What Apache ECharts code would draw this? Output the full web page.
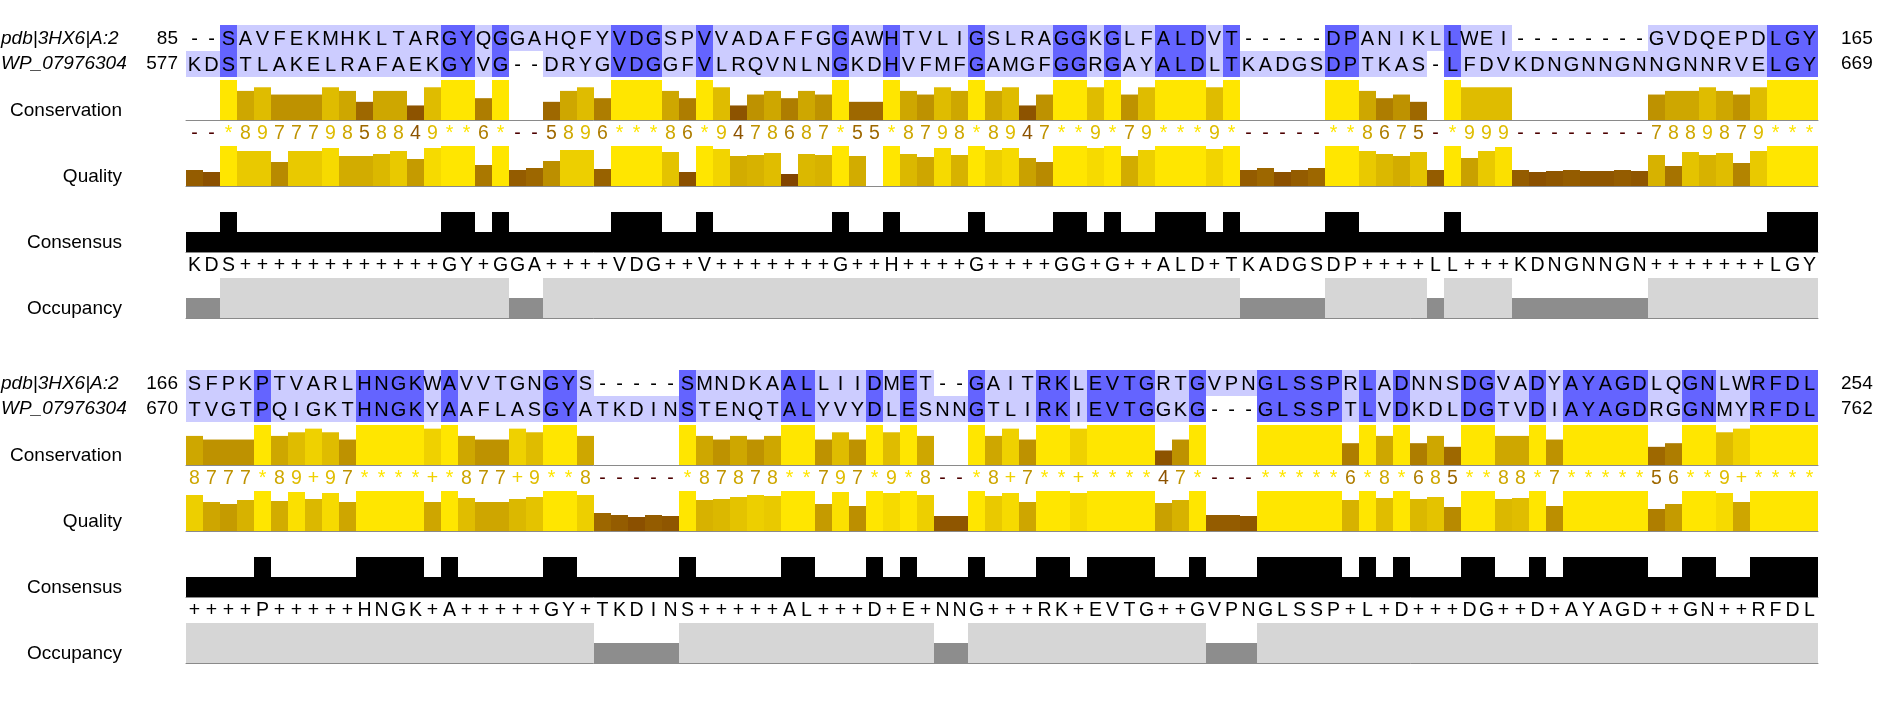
<!DOCTYPE html>
<html><head><meta charset="utf-8">
<script src="https://cdn.jsdelivr.net/npm/echarts@6/dist/echarts.min.js"></script>
<style>html,body{margin:0;padding:0;background:#fff}#c{width:1879px;height:706px}</style>
</head><body><div id="c"></div>
<script>
// ---------- data ----------
const seqNames = ['pdb|3HX6|A:29-254', 'WP_079763049.1'];
const annotationNames = ['Conservation', 'Quality', 'Consensus', 'Occupancy'];

const pdbSeq1 = '--SAVFEKMHKLTARGYQGGAHQFYVDGSPVVADAFFGGAWHTVLIGSLRAGGKGLFALDVT-----DPANIKLLWEI--------GVDQEPDLGY'.split('');
const wpSeq1  = 'KDSTLAKELRAFAEKGYVG--DRYGVDGGFVLRQVNLNGKDHVFMFGAMGFGGRGAYALDLTKADGSDPTKAS-LFDVKDNGNNGNNGNNRVELGY'.split('');
const pdbSeq2 = 'SFPKPTVARLHNGKWAVVTGNGYS-----SMNDKAALLIIDMET--GAITRKLEVTGRTGVPNGLSSPRLADNNSDGVADYAYAGDLQGNLWRFDL'.split('');
const wpSeq2  = 'TVGTPQIGKTHNGKYAAFLASGYATKDINSTENQTALYVYDLESNNGTLIRKIEVTGGKG---GLSSPTLVDKDLDGTVDIAYAGDRGGNMYRFDL'.split('');

const startNums1 = [85, 577], endNums1 = [165, 669];
const startNums2 = [166, 670], endNums2 = [254, 762];

// conservation (0..11; 11 = '*', 10 = '+', 0 = '-')
const cons1 = [0,0,11,8,9,7,7,7,9,8, 5,8,8,4,9,11,11,6,11,0, 0,5,8,9,6,11,11,11,8,6,
  11,9,4,7,8,6,8,7,11,5, 5,11,8,7,9,8,11,8,9,4, 7,11,11,9,11,7,9,11,11,11,
  9,11,0,0,0,0,0,11,11,8, 6,7,5,0,11,9,9,9,0,0, 0,0,0,0,0,0,7,8,8,9, 8,7,9,11,11,11];
const cons2 = [8,7,7,7,11,8,9,10,9,7, 11,11,11,11,10,11,8,7,7,10, 9,11,11,8,0,0,0,0,0,11,
  8,7,8,7,8,11,11,7,9,7, 11,9,11,8,0,0,11,8,10,7, 11,11,10,11,11,11,11,4,7,11,
  0,0,0,11,11,11,11,11,6,11, 8,11,6,8,5,11,11,8,8,11, 7,11,11,11,11,11,5,6,11,11, 9,10,11,11,11,11];

// quality (percent of full bar)
const qual1 = [40,35,100,87.5,87.5,60,87.5,87.5,95,75, 75,80,87.5,67.5,95,100,100,52.5,100,40,
  45,62.5,90,90,42.5,100,100,100,85,35, 100,92.5,75,77.5,82.5,30,80,77.5,100,75,
  0,100,80,72.5,95,77.5,100,90,95,70, 60,100,100,95,100,75,90,100,100,100,
  92.5,100,40,45,35,40,45,100,100,87.5, 80,75,85,40,100,70,87.5,97.5,40,35,
  37.5,40,37.5,37.5,40,37.5,77.5,50,85,77.5, 82.5,57.5,87.5,100,100,100];
const qual2 = [90,72.5,67.5,77.5,100,75,97.5,80,95,72.5, 100,100,100,100,72.5,100,82.5,72.5,72.5,80,
  85,100,100,90,45,40,35,40,37.5,100, 77.5,80,85,90,87.5,100,100,67.5,97.5,62.5,
  100,95,100,90,37.5,37.5,100,87.5,95,72.5, 100,100,95,100,100,100,100,70,77.5,100,
  40,40,37.5,100,100,100,100,100,77.5,100, 82.5,100,80,85,60,100,100,80,82.5,100,
  62.5,100,100,100,100,100,55,67.5,100,100, 95,72.5,100,100,100,100];

// consensus labels and percentages
const consensusLab1 = 'KDS++++++++++++GY+GGA++++VDG++V+++++++G++H++++G++++GG+G++ALD+TKADGSDP++++LL+++KDNGNNGN+++++++LGY'.split('');
const consensusLab2 = '++++P+++++HNGK+A+++++GY+TKDINS+++++AL+++D+E+NNG+++RK+EVTG++GVPNGLSSP+L+D+++DG++D+AYAGD++GN++RFDL'.split('');
const consensusPct1 = [50,50,100,50,50,50,50,50,50,50, 50,50,50,50,50,100,100,50,100,50,
  50,50,50,50,50,100,100,100,50,50, 100,50,50,50,50,50,50,50,100,50,
  50,100,50,50,50,50,100,50,50,50, 50,100,100,50,100,50,50,100,100,100,
  50,100,50,50,50,50,50,100,100,50, 50,50,50,50,100,50,50,50,50,50,
  50,50,50,50,50,50,50,50,50,50, 50,50,50,100,100,100];
const consensusPct2 = [50,50,50,50,100,50,50,50,50,50, 100,100,100,100,50,100,50,50,50,50,
  50,100,100,50,50,50,50,50,50,100, 50,50,50,50,50,100,100,50,50,50,
  100,50,100,50,50,50,100,50,50,50, 100,100,50,100,100,100,100,50,50,100,
  50,50,50,100,100,100,100,100,50,100, 50,100,50,50,50,100,100,50,50,100,
  50,100,100,100,100,100,50,50,100,100, 50,50,100,100,100,100];

// occupancy (number of sequences with a residue)
const occ1 = [1,1,2,2,2,2,2,2,2,2, 2,2,2,2,2,2,2,2,2,1, 1,2,2,2,2,2,2,2,2,2,
  2,2,2,2,2,2,2,2,2,2, 2,2,2,2,2,2,2,2,2,2, 2,2,2,2,2,2,2,2,2,2,
  2,2,1,1,1,1,1,2,2,2, 2,2,2,1,2,2,2,2,1,1, 1,1,1,1,1,1,2,2,2,2, 2,2,2,2,2,2];
const occ2 = [2,2,2,2,2,2,2,2,2,2, 2,2,2,2,2,2,2,2,2,2, 2,2,2,2,1,1,1,1,1,2,
  2,2,2,2,2,2,2,2,2,2, 2,2,2,2,1,1,2,2,2,2, 2,2,2,2,2,2,2,2,2,2,
  1,1,1,2,2,2,2,2,2,2, 2,2,2,2,2,2,2,2,2,2, 2,2,2,2,2,2,2,2,2,2, 2,2,2,2,2,2];

// ---------- styling ----------
const NCOL = 96;
const colCats = Array.from({length: NCOL}, (_, i) => String(i));
const FONT = '"Liberation Sans", Arial, sans-serif';
const DARK_ID = '#6464ff', LIGHT_ID = '#ccccff';
const OCC_FULL = '#d6d6d6', OCC_HALF = '#8d8d8d';

function gradColor(p) {
  const r = Math.round(255 * (0.3 + 0.7 * p));
  const g = Math.round(255 * 0.9 * p);
  return 'rgb(' + r + ',' + g + ',0)';
}
function consSymbol(v) { return v === 11 ? '*' : v === 10 ? '+' : v === 0 ? '-' : String(v); }

const blocks = [
  {off: 0,   seqs: [pdbSeq1, wpSeq1], cons: cons1, qual: qual1, clab: consensusLab1, cpct: consensusPct1, occ: occ1, start: startNums1, end: endNums1},
  {off: 345, seqs: [pdbSeq2, wpSeq2], cons: cons2, qual: qual2, clab: consensusLab2, cpct: consensusPct2, occ: occ2, start: startNums2, end: endNums2}
];

const grid = [], xAxis = [], yAxis = [], series = [], graphic = [];
const LEFT = 186, WIDTH = 1632;

function addGrid(top, height, yCfg, baseline) {
  const idx = grid.length;
  grid.push({left: LEFT, width: WIDTH, top: top, height: height});
  xAxis.push({type: 'category', gridIndex: idx, data: colCats, boundaryGap: true,
    axisLine: {show: !!baseline, lineStyle: {color: '#8a8a8a', width: 1}},
    axisTick: {show: false}, axisLabel: {show: false}, splitLine: {show: false}});
  yAxis.push(Object.assign({gridIndex: idx, axisLine: {show: false}, axisTick: {show: false},
    axisLabel: {show: false}, splitLine: {show: false}}, yCfg));
  return idx;
}

function textRow(idx, chars, colors, fontSize) {
  series.push({
    type: 'custom', xAxisIndex: idx, yAxisIndex: idx, silent: true,
    data: chars.map((c, i) => [i, 0.5]),
    renderItem: function (params, api) {
      const i = params.dataIndex;
      const p = api.coord([api.value(0), api.value(1)]);
      return {type: 'text', style: {text: chars[i], x: p[0], y: p[1],
        align: 'center', verticalAlign: 'middle', textAlign: 'center', textVerticalAlign: 'middle',
        font: fontSize + 'px ' + FONT, fill: colors[i]}};
    }
  });
}

blocks.forEach(b => {
  const off = b.off;
  // sequences
  const gS = addGrid(25 + off, 52, {type: 'category', data: ['0', '1'], inverse: true});
  const cells = [];
  b.seqs.forEach((s, r) => {
    const other = b.seqs[1 - r];
    s.forEach((ch, c) => {
      let bg = null;
      if (ch !== '-') bg = (other[c] === ch) ? DARK_ID : LIGHT_ID;
      cells.push({col: c, row: r, ch: ch, bg: bg});
    });
  });
  series.push({
    type: 'custom', xAxisIndex: gS, yAxisIndex: gS, silent: true,
    data: cells.map(c => [c.col, c.row]),
    renderItem: function (params, api) {
      const cell = cells[params.dataIndex];
      const p = api.coord([api.value(0), api.value(1)]);
      const s = api.size([1, 1]);
      const children = [];
      if (cell.bg) children.push({type: 'rect', shape: {x: p[0] - s[0] / 2, y: p[1] - s[1] / 2, width: s[0], height: s[1]}, style: {fill: cell.bg}});
      children.push({type: 'text', style: {text: cell.ch, x: p[0], y: p[1] + 1, align: 'center', verticalAlign: 'middle',
        textAlign: 'center', textVerticalAlign: 'middle', font: '20px ' + FONT, fill: '#000'}});
      return {type: 'group', children: children};
    }
  });

  // conservation bars
  const gC = addGrid(80 + off, 40, {type: 'value', min: 0, max: 11}, true);
  series.push({type: 'bar', xAxisIndex: gC, yAxisIndex: gC, barCategoryGap: '0%', silent: true,
    data: b.cons.map(v => ({value: v, itemStyle: {color: gradColor(v / 11)}}))});
  const gCL = addGrid(122 + off, 24, {type: 'value', min: 0, max: 1});
  textRow(gCL, b.cons.map(consSymbol), b.cons.map(v => gradColor(v / 11)), 19.5);

  // quality bars
  const gQ = addGrid(146 + off, 40, {type: 'value', min: 0, max: 100}, true);
  series.push({type: 'bar', xAxisIndex: gQ, yAxisIndex: gQ, barCategoryGap: '0%', silent: true,
    data: b.qual.map(v => ({value: v, itemStyle: {color: gradColor(v / 100)}}))});

  // consensus bars + labels
  const gK = addGrid(212 + off, 40, {type: 'value', min: 0, max: 100}, true);
  series.push({type: 'bar', xAxisIndex: gK, yAxisIndex: gK, barCategoryGap: '0%', silent: true,
    data: b.cpct.map(v => ({value: v, itemStyle: {color: '#000'}}))});
  const gKL = addGrid(254 + off, 24, {type: 'value', min: 0, max: 1});
  textRow(gKL, b.clab, b.clab.map(() => '#000'), 19.5);

  // occupancy
  const gO = addGrid(278 + off, 40, {type: 'value', min: 0, max: 2}, true);
  series.push({type: 'bar', xAxisIndex: gO, yAxisIndex: gO, barCategoryGap: '0%', silent: true,
    data: b.occ.map(v => ({value: v, itemStyle: {color: v === 2 ? OCC_FULL : OCC_HALF}}))});

  // side texts
  const rowY = [39 + off, 64 + off];
  seqNames.forEach((n, r) => {
    graphic.push({type: 'text', x: 1, y: rowY[r], silent: true,
      style: {text: n, width: 127, overflow: 'truncate', ellipsis: '', align: 'left', verticalAlign: 'middle',
        textAlign: 'left', textVerticalAlign: 'middle', font: 'italic 19px ' + FONT, fill: '#000'}});
    graphic.push({type: 'text', x: 178, y: rowY[r], silent: true,
      style: {text: String(b.start[r]), align: 'right', verticalAlign: 'middle', textAlign: 'right', textVerticalAlign: 'middle',
        font: '19px ' + FONT, fill: '#000'}});
    graphic.push({type: 'text', x: 1841, y: rowY[r], silent: true,
      style: {text: String(b.end[r]), align: 'left', verticalAlign: 'middle', textAlign: 'left', textVerticalAlign: 'middle',
        font: '19px ' + FONT, fill: '#000'}});
  });
  annotationNames.forEach((n, k) => {
    graphic.push({type: 'text', x: 122, y: 110.7 + 66 * k + off, silent: true,
      style: {text: n, align: 'right', verticalAlign: 'middle', textAlign: 'right', textVerticalAlign: 'middle',
        font: '19px ' + FONT, fill: '#000'}});
  });
});

const chart = echarts.init(document.getElementById('c'), null, {renderer: 'canvas'});
chart.setOption({
  animation: false,
  backgroundColor: '#fff',
  grid: grid, xAxis: xAxis, yAxis: yAxis, series: series, graphic: graphic
});
</script>
</body></html>
